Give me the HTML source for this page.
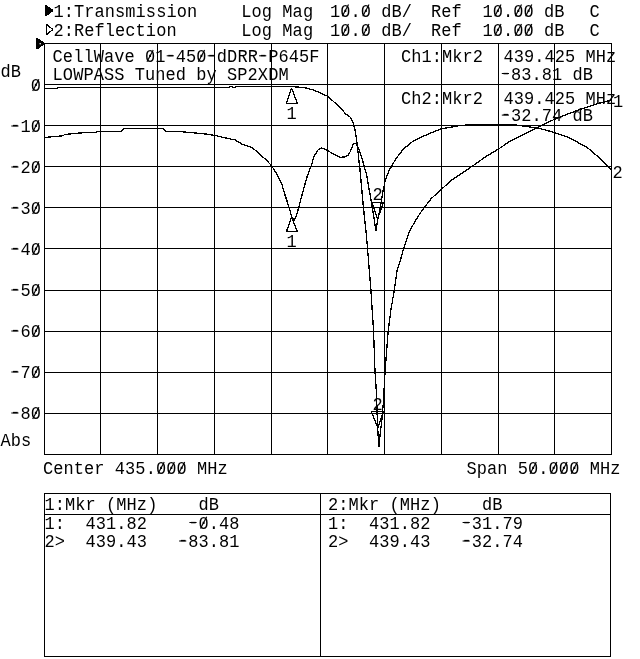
<!DOCTYPE html>
<html lang="en">
<head>
<meta charset="utf-8">
<title>Network analyzer plot - CellWave 01-450-dDRR-P645F</title>
<style>
html,body{margin:0;padding:0;background:#fff;}
body{width:640px;height:659px;overflow:hidden;position:relative;}
svg{position:absolute;left:0;top:0;display:block;}
.g line,.g rect{stroke:#000;stroke-width:1;fill:none;shape-rendering:crispEdges;}
.c polyline,.c polygon,.c line{stroke:#000;stroke-width:1.3;fill:none;stroke-linejoin:bevel;shape-rendering:crispEdges;}
.c .f{fill:#000;}
text{font-family:"Liberation Mono","DejaVu Sans Mono",monospace;font-size:17px;letter-spacing:0.068px;fill:#000;white-space:pre;}
.z line{stroke:#000;stroke-width:1.15;}
.z .h{stroke-width:1;}
</style>
</head>
<body>
<svg width="640" height="659" viewBox="0 0 640 659">
<rect x="0" y="0" width="640" height="659" fill="#fff"/>

<g class="g">
<line x1="44.5" y1="43" x2="44.5" y2="455"/>
<line x1="100.5" y1="43" x2="100.5" y2="455"/>
<line x1="157.5" y1="43" x2="157.5" y2="455"/>
<line x1="214.5" y1="43" x2="214.5" y2="455"/>
<line x1="271.5" y1="43" x2="271.5" y2="455"/>
<line x1="327.5" y1="43" x2="327.5" y2="455"/>
<line x1="384.5" y1="43" x2="384.5" y2="455"/>
<line x1="441.5" y1="43" x2="441.5" y2="455"/>
<line x1="498.5" y1="43" x2="498.5" y2="455"/>
<line x1="554.5" y1="43" x2="554.5" y2="455"/>
<line x1="611.5" y1="43" x2="611.5" y2="455"/>
<line x1="44" y1="43.5" x2="612" y2="43.5"/>
<line x1="44" y1="84.5" x2="612" y2="84.5"/>
<line x1="44" y1="125.5" x2="612" y2="125.5"/>
<line x1="44" y1="166.5" x2="612" y2="166.5"/>
<line x1="44" y1="207.5" x2="612" y2="207.5"/>
<line x1="44" y1="248.5" x2="612" y2="248.5"/>
<line x1="44" y1="290.5" x2="612" y2="290.5"/>
<line x1="44" y1="331.5" x2="612" y2="331.5"/>
<line x1="44" y1="372.5" x2="612" y2="372.5"/>
<line x1="44" y1="413.5" x2="612" y2="413.5"/>
<line x1="44" y1="454.5" x2="612" y2="454.5"/>
<rect x="44.5" y="493.5" width="566" height="163"/>
<line x1="44" y1="514.5" x2="611" y2="514.5"/>
<line x1="320.5" y1="493" x2="320.5" y2="657"/>
</g>
<g class="c">
<polyline points="44,88.4 57.3,88.4 58.2,87.4 228.5,87.4 230,86.6 232,86.6 233,87.4 235,87.4 236,86.6 290,86.6 297,87 305,87.8 312.5,89.7 320,92.7 327.5,96.2 338.8,106.2 346.2,114.4 350,116.9 353.1,122.5 355,130 356.5,138.8 357.2,145 358.1,152.5 358.8,160 359.7,166.6 362.8,200.7 364.3,215.9 365.9,230 367.5,248 370.9,290 373.5,330 375,372 376.6,395 377.5,426 378.9,447.2 380.3,432.6 381.8,421.3 383.2,404.4 383.8,395 385,372 388.3,330 390.9,310 394.3,290 397.2,270 400.6,259.5 403.7,248.2 406.7,239.8 409.7,230.7 415,221.6 419.6,214 424.6,207.2 431,198.8 441.4,189.3 452,179.8 462,173.2 473.6,165.3 485.3,156.9 498.6,149 508.8,142 521.2,135.8 530.6,131.1 540,126.2 554.3,119.4 576.6,110.6 598.4,103.4 611.5,100.1"/>
<polyline points="44,137.5 62.5,135.8 65,134.5 77.5,133.2 90,132.3 96.3,132.4 97,131.4 121,131.4 123.8,128.8 163,128.8 165.6,131.4 180,131.6 190,132.5 205.6,134 214.2,135.3 226,138 235.3,140 241.6,143.9 252.5,147.8 258.8,153.3 266.6,160.3 271.6,165.8 277.5,175.2 282.2,185.3 285,195 287,201 289.1,207.5 291.6,216.7 294,220.5 296.6,215 298.7,207.5 302,195 307,176.9 311,166.4 314,156.6 318,150 321.9,148 327.3,150.3 334.4,154.7 340.6,157.3 345,156.8 348,155.5 350.3,151.5 353.1,144.4 355.2,143 357.5,146 360,152.5 362.8,161.2 366.6,174.9 370.3,196.1 373.4,214.4 376,231 377.9,218.9 381,203.7 383.2,190 385.5,179.5 389.2,170.3 393.2,163.5 396,158.5 403.5,149 413.5,140.8 426.1,135 441.3,128.8 449.4,127.5 458.8,125.7 471,124.6 512,124.6 524.4,126.1 535,127.8 540,128.5 554.3,132.5 570,138 587.5,147.8 600.6,158.8 611.5,169.7"/>
<polygon points="291.5,88 286.3,103.5 297.5,103.5"/>
<polygon points="291.6,217.3 286.4,231.7 297.5,231.7"/>
<polygon points="371.9,202.3 383.5,202.3 377.5,219.2"/>
<polygon points="371.4,411.7 383.3,411.7 378,428"/>
<polygon class="f" points="46,5.5 52.8,10.5 46,15.6"/>
<polygon points="46.3,24 52.7,29.5 46.3,35"/>
<polygon class="f" points="37,38.3 44.3,43.6 37,48.9"/>
<circle cx="40.2" cy="43.7" r="0.8" fill="#fff" stroke="none"/>
</g>
<g class="t">
<text transform="translate(53.5 16.5) scale(1 1.1)" xml:space="preserve">1:Transmission</text>
<text transform="translate(241.3 16.5) scale(1 1.1)" xml:space="preserve">Log Mag</text>
<text transform="translate(330 16.5) scale(1 1.1)" xml:space="preserve">10.0 dB/</text>
<text transform="translate(431 16.5) scale(1 1.1)" xml:space="preserve">Ref</text>
<text transform="translate(482.5 16.5) scale(1 1.1)" xml:space="preserve">10.00 dB</text>
<text transform="translate(589.5 16.5) scale(1 1.1)" xml:space="preserve">C</text>
<text transform="translate(53.5 36) scale(1 1.1)" xml:space="preserve">2:Reflection</text>
<text transform="translate(241.3 36) scale(1 1.1)" xml:space="preserve">Log Mag</text>
<text transform="translate(330 36) scale(1 1.1)" xml:space="preserve">10.0 dB/</text>
<text transform="translate(431 36) scale(1 1.1)" xml:space="preserve">Ref</text>
<text transform="translate(482.5 36) scale(1 1.1)" xml:space="preserve">10.00 dB</text>
<text transform="translate(589.5 36) scale(1 1.1)" xml:space="preserve">C</text>
<text transform="translate(52.6 62) scale(1 1.1)" xml:space="preserve">CellWave 01<tspan dy="-0.9">-</tspan><tspan dy="0.9">450</tspan><tspan dy="-0.9">-</tspan><tspan dy="0.9">dDRR</tspan><tspan dy="-0.9">-</tspan><tspan dy="0.9">P645F</tspan></text>
<text transform="translate(52.6 80) scale(1 1.1)" xml:space="preserve">LOWPASS Tuned by SP2XDM</text>
<text transform="translate(401 62) scale(1 1.1)" xml:space="preserve">Ch1:Mkr2</text>
<text transform="translate(503.4 62) scale(1 1.1)" xml:space="preserve">439.425 MHz</text>
<text transform="translate(500.7 79.7) scale(1 1.1)" xml:space="preserve"><tspan dy="-0.9">-</tspan><tspan dy="0.9">83.81 dB</tspan></text>
<text transform="translate(401 103.7) scale(1 1.1)" xml:space="preserve">Ch2:Mkr2</text>
<text transform="translate(503.4 103.7) scale(1 1.1)" xml:space="preserve">439.425 MHz</text>
<text transform="translate(500.7 121.3) scale(1 1.1)" xml:space="preserve"><tspan dy="-0.9">-</tspan><tspan dy="0.9">32.74 dB</tspan></text>
<text transform="translate(0.5 76.6) scale(1 1.1)" xml:space="preserve">dB</text>
<text transform="translate(30.7 91.2) scale(1 1.1)" xml:space="preserve">0</text>
<text transform="translate(10.2 132.2) scale(1 1.1)" xml:space="preserve"><tspan dy="-0.9">-</tspan><tspan dy="0.9">10</tspan></text>
<text transform="translate(10.2 173.2) scale(1 1.1)" xml:space="preserve"><tspan dy="-0.9">-</tspan><tspan dy="0.9">20</tspan></text>
<text transform="translate(10.2 214.2) scale(1 1.1)" xml:space="preserve"><tspan dy="-0.9">-</tspan><tspan dy="0.9">30</tspan></text>
<text transform="translate(10.2 255.2) scale(1 1.1)" xml:space="preserve"><tspan dy="-0.9">-</tspan><tspan dy="0.9">40</tspan></text>
<text transform="translate(10.2 296.2) scale(1 1.1)" xml:space="preserve"><tspan dy="-0.9">-</tspan><tspan dy="0.9">50</tspan></text>
<text transform="translate(10.2 337.2) scale(1 1.1)" xml:space="preserve"><tspan dy="-0.9">-</tspan><tspan dy="0.9">60</tspan></text>
<text transform="translate(10.2 378.2) scale(1 1.1)" xml:space="preserve"><tspan dy="-0.9">-</tspan><tspan dy="0.9">70</tspan></text>
<text transform="translate(10.2 419.2) scale(1 1.1)" xml:space="preserve"><tspan dy="-0.9">-</tspan><tspan dy="0.9">80</tspan></text>
<text transform="translate(0.5 446) scale(1 1.1)" xml:space="preserve">Abs</text>
<text transform="translate(43 474) scale(1 1.1)" xml:space="preserve">Center 435.000 MHz</text>
<text transform="translate(466.5 474) scale(1 1.1)" xml:space="preserve">Span 50.000 MHz</text>
<text transform="translate(44.5 510.3) scale(1 1.1)" xml:space="preserve">1:Mkr (MHz)    dB</text>
<text transform="translate(44.5 528.7) scale(1 1.1)" xml:space="preserve">1:  431.82    <tspan dy="-0.9">-</tspan><tspan dy="0.9">0.48</tspan></text>
<text transform="translate(44.5 547.2) scale(1 1.1)" xml:space="preserve">2&gt;  439.43   <tspan dy="-0.9">-</tspan><tspan dy="0.9">83.81</tspan></text>
<text transform="translate(328 510.3) scale(1 1.1)" xml:space="preserve">2:Mkr (MHz)    dB</text>
<text transform="translate(328 528.7) scale(1 1.1)" xml:space="preserve">1:  431.82   <tspan dy="-0.9">-</tspan><tspan dy="0.9">31.79</tspan></text>
<text transform="translate(328 547.2) scale(1 1.1)" xml:space="preserve">2&gt;  439.43   <tspan dy="-0.9">-</tspan><tspan dy="0.9">32.74</tspan></text>
<text transform="translate(286.6 118.5) scale(1 1.1)" xml:space="preserve">1</text>
<text transform="translate(286.6 246.5) scale(1 1.1)" xml:space="preserve">1</text>
<text transform="translate(372.4 200) scale(1 1.1)" xml:space="preserve">2</text>
<text transform="translate(372.4 410) scale(1 1.1)" xml:space="preserve">2</text>
<text transform="translate(613 106.5) scale(1 1.1)" xml:space="preserve">1</text>
<text transform="translate(612.6 177.5) scale(1 1.1)" xml:space="preserve">2</text>
</g>
<g class="z">
<line x1="342.3" y1="16.2" x2="348.5" y2="4.5"/>
<line x1="362.8" y1="16.2" x2="369" y2="4.5"/>
<line x1="494.8" y1="16.2" x2="501" y2="4.5"/>
<line x1="515.3" y1="16.2" x2="521.5" y2="4.5"/>
<line x1="525.6" y1="16.2" x2="531.8" y2="4.5"/>
<line x1="342.3" y1="35.7" x2="348.5" y2="24"/>
<line x1="362.8" y1="35.7" x2="369" y2="24"/>
<line x1="494.8" y1="35.7" x2="501" y2="24"/>
<line x1="515.3" y1="35.7" x2="521.5" y2="24"/>
<line x1="525.6" y1="35.7" x2="531.8" y2="24"/>
<line x1="147" y1="61.7" x2="153.2" y2="50"/>
<line class="h" x1="166.7" y1="55.8" x2="173.9" y2="55.8"/>
<line x1="198.4" y1="61.7" x2="204.6" y2="50"/>
<line class="h" x1="207.7" y1="55.8" x2="214.9" y2="55.8"/>
<line class="h" x1="259.1" y1="55.8" x2="266.3" y2="55.8"/>
<line class="h" x1="501.8" y1="73.5" x2="509" y2="73.5"/>
<line class="h" x1="501.8" y1="115.1" x2="509" y2="115.1"/>
<line x1="32.7" y1="90.9" x2="38.9" y2="79.2"/>
<line class="h" x1="11.3" y1="126" x2="18.5" y2="126"/>
<line x1="32.7" y1="131.9" x2="38.9" y2="120.2"/>
<line class="h" x1="11.3" y1="167" x2="18.5" y2="167"/>
<line x1="32.7" y1="172.9" x2="38.9" y2="161.2"/>
<line class="h" x1="11.3" y1="208" x2="18.5" y2="208"/>
<line x1="32.7" y1="213.9" x2="38.9" y2="202.2"/>
<line class="h" x1="11.3" y1="249" x2="18.5" y2="249"/>
<line x1="32.7" y1="254.9" x2="38.9" y2="243.2"/>
<line class="h" x1="11.3" y1="290" x2="18.5" y2="290"/>
<line x1="32.7" y1="295.9" x2="38.9" y2="284.2"/>
<line class="h" x1="11.3" y1="331" x2="18.5" y2="331"/>
<line x1="32.7" y1="336.9" x2="38.9" y2="325.2"/>
<line class="h" x1="11.3" y1="372" x2="18.5" y2="372"/>
<line x1="32.7" y1="377.9" x2="38.9" y2="366.2"/>
<line class="h" x1="11.3" y1="413" x2="18.5" y2="413"/>
<line x1="32.7" y1="418.9" x2="38.9" y2="407.2"/>
<line x1="158" y1="473.7" x2="164.2" y2="462"/>
<line x1="168.2" y1="473.7" x2="174.4" y2="462"/>
<line x1="178.5" y1="473.7" x2="184.7" y2="462"/>
<line x1="530.1" y1="473.7" x2="536.3" y2="462"/>
<line x1="550.7" y1="473.7" x2="556.9" y2="462"/>
<line x1="560.9" y1="473.7" x2="567.1" y2="462"/>
<line x1="571.2" y1="473.7" x2="577.4" y2="462"/>
<line class="h" x1="189.4" y1="522.5" x2="196.6" y2="522.5"/>
<line x1="200.5" y1="528.4" x2="206.7" y2="516.7"/>
<line class="h" x1="179.1" y1="541" x2="186.3" y2="541"/>
<line class="h" x1="462.6" y1="522.5" x2="469.8" y2="522.5"/>
<line class="h" x1="462.6" y1="541" x2="469.8" y2="541"/>
</g>
</svg>
</body>
</html>
